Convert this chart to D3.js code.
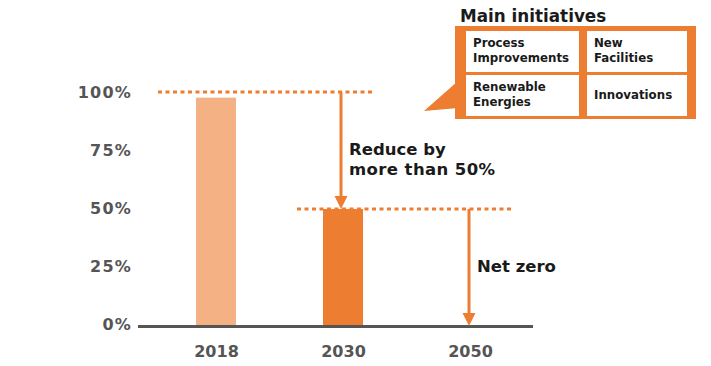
<!DOCTYPE html>
<html><head><meta charset="utf-8">
<script src="https://cdn.jsdelivr.net/npm/d3@7"></script>
<style>
body{margin:0;background:#fff;}
svg{display:block;font-family:"DejaVu Sans",Verdana,sans-serif;font-weight:bold;}
</style></head>
<body><svg id="chart" width="711" height="366"></svg>
<script>
const categories = ["2018", "2030", "2050"];
const values = [98, 50, 0];
const barColors = ["#F4B183", "#ED7D31", "#ED7D31"];
const tickValues = [0, 25, 50, 75, 100];
const tickLabels = ["0%", "25%", "50%", "75%", "100%"];
const legendTitle = "Main initiatives";
const initiatives = [["Process", "Improvements"], ["New", "Facilities"], ["Renewable", "Energies"], ["Innovations"]];
const annotation1 = ["Reduce by", "more than 50%"];
const annotation2 = "Net zero";

const orange = "#ED7D31", gray = "#555555", textDark = "#1a1a1a";
const svg = d3.select("#chart");
const x = d3.scalePoint().domain(categories).range([216, 470]);
const y = d3.scaleLinear().domain([0, 100]).range([325, 93]);
const barW = 40;

// bars
svg.selectAll("rect.bar").data(values).join("rect").attr("class", "bar")
  .attr("x", (d, i) => x(categories[i]) - barW / 2)
  .attr("width", barW)
  .attr("y", d => y(d))
  .attr("height", d => y(0) - y(d))
  .attr("fill", (d, i) => barColors[i]);

// baseline
svg.append("line").attr("x1", 138).attr("x2", 533).attr("y1", y(0) + 1.5).attr("y2", y(0) + 1.5)
  .attr("stroke", gray).attr("stroke-width", 3);

// y tick labels
const yAxis = d3.axisLeft(y).tickValues(tickValues).tickSize(0).tickPadding(0)
  .tickFormat((d, i) => tickLabels[i]);
const ga = svg.append("g").attr("transform", "translate(132,0)").call(yAxis);
ga.select(".domain").remove();
ga.selectAll("text").attr("font-family", "DejaVu Sans, Verdana, sans-serif").attr("font-weight", "bold")
  .attr("font-size", 16).attr("fill", gray).attr("letter-spacing", 1.2).attr("dy", "0.25em");

// x labels
const xAxis = d3.axisBottom(x).tickSize(0).tickPadding(0);
const gx = svg.append("g").attr("transform", "translate(0,346)").call(xAxis);
gx.select(".domain").remove();
gx.selectAll("text").attr("font-family", "DejaVu Sans, Verdana, sans-serif").attr("font-weight", "bold")
  .attr("font-size", 16).attr("fill", gray).attr("dy", "0.71em");

// dotted reference lines
function dotted(x1, x2, yy) {
  svg.append("line").attr("x1", x1).attr("x2", x2).attr("y1", yy).attr("y2", yy)
    .attr("stroke", orange).attr("stroke-width", 3).attr("stroke-dasharray", "4,3.5");
}
dotted(x("2018") - 58, x("2030") + 32, y(100) - 1);
dotted(x("2030") - 46, x("2050") + 43, y(50));

// arrows
function arrow(ax, y1, y2) {
  svg.append("line").attr("x1", ax).attr("x2", ax).attr("y1", y1).attr("y2", y2 - 10)
    .attr("stroke", orange).attr("stroke-width", 3);
  svg.append("path").attr("d", `M${ax - 6.5},${y2 - 13} L${ax + 6.5},${y2 - 13} L${ax},${y2} Z`).attr("fill", orange);
}
arrow(x("2030") - 2, y(100) - 1, y(50));
arrow(x("2050") - 1, y(50), y(0) + 1);

// annotations
svg.append("text").attr("x", 349).attr("y", 155).attr("font-size", 16.5).attr("fill", textDark).text(annotation1[0]);
svg.append("text").attr("x", 349).attr("y", 175).attr("font-size", 16.5).attr("fill", textDark).attr("letter-spacing", 0.4).text(annotation1[1]);
svg.append("text").attr("x", 477).attr("y", 272).attr("font-size", 16.5).attr("fill", textDark).text(annotation2);

// legend box
svg.append("text").attr("x", 460).attr("y", 22).attr("font-size", 16.8).attr("fill", textDark).text(legendTitle);
svg.append("path").attr("d", "M424,111 L458,81 L458,108 Z").attr("fill", orange);
svg.append("rect").attr("x", 455).attr("y", 26).attr("width", 241).attr("height", 93).attr("fill", orange);
const cells = [
  {x: 466, y: 31, w: 113, h: 41},
  {x: 587, y: 31, w: 100, h: 41},
  {x: 466, y: 75, w: 113, h: 41},
  {x: 587, y: 75, w: 100, h: 41}
];
cells.forEach((c, i) => {
  svg.append("rect").attr("x", c.x).attr("y", c.y).attr("width", c.w).attr("height", c.h).attr("fill", "#fff");
  const lines = initiatives[i];
  const t = svg.append("text").attr("font-size", 11.8).attr("fill", textDark);
  const lh = 15;
  const startY = c.y + c.h / 2 - (lines.length - 1) * lh / 2 + 3;
  lines.forEach((l, j) => t.append("tspan").attr("x", c.x + 7).attr("y", startY + j * lh).text(l));
});
</script></body></html>
